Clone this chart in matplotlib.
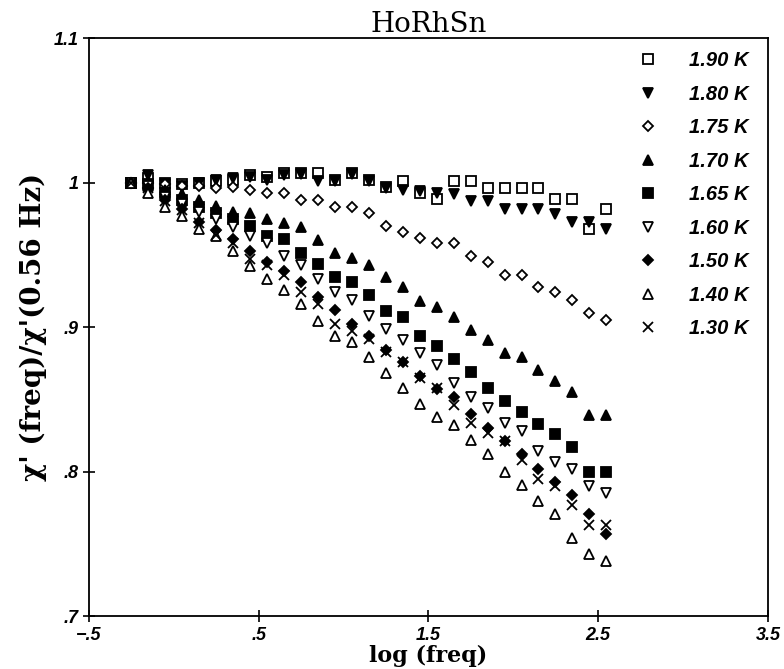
import numpy as np
import matplotlib.pyplot as plt

# log10 of frequency, 0.56 Hz upward in steps of 0.1 decade
log_f0 = np.log10(0.56)
n_pts = 29
log_freq = [log_f0 + 0.1 * i for i in range(n_pts)]

temps = ['1.90 K', '1.80 K', '1.75 K', '1.70 K', '1.65 K',
         '1.60 K', '1.50 K', '1.40 K', '1.30 K']

chi_190 = [1.000, 1.003, 1.000, 0.999, 1.000, 1.001, 1.002, 1.005, 1.004, 1.007,
           1.007, 1.007, 1.002, 1.007, 1.002, 0.997, 1.001, 0.993, 0.989, 1.001,
           1.001, 0.996, 0.996, 0.996, 0.996, 0.989, 0.989, 0.968, 0.982]
chi_180 = [1.000, 1.005, 0.999, 0.998, 1.000, 1.002, 1.003, 1.004, 1.002, 1.005,
           1.006, 1.001, 1.001, 1.006, 1.001, 0.996, 0.995, 0.994, 0.993, 0.992,
           0.987, 0.987, 0.982, 0.982, 0.982, 0.978, 0.973, 0.973, 0.968]
chi_175 = [1.000, 1.000, 0.999, 0.998, 0.998, 0.996, 0.997, 0.995, 0.993, 0.993,
           0.988, 0.988, 0.983, 0.983, 0.979, 0.970, 0.966, 0.962, 0.958, 0.958,
           0.949, 0.945, 0.936, 0.936, 0.928, 0.924, 0.919, 0.910, 0.905]
chi_170 = [1.000, 0.998, 0.995, 0.992, 0.988, 0.984, 0.980, 0.979, 0.975, 0.972,
           0.969, 0.960, 0.951, 0.948, 0.943, 0.935, 0.928, 0.918, 0.914, 0.907,
           0.898, 0.891, 0.882, 0.879, 0.870, 0.863, 0.855, 0.839, 0.839]
chi_165 = [1.000, 0.999, 0.993, 0.988, 0.983, 0.979, 0.975, 0.970, 0.963, 0.961,
           0.951, 0.944, 0.935, 0.931, 0.922, 0.911, 0.907, 0.894, 0.887, 0.878,
           0.869, 0.858, 0.849, 0.841, 0.833, 0.826, 0.817, 0.800, 0.800]
chi_160 = [1.000, 0.998, 0.990, 0.985, 0.980, 0.975, 0.969, 0.963, 0.958, 0.949,
           0.943, 0.933, 0.924, 0.919, 0.908, 0.899, 0.891, 0.882, 0.874, 0.861,
           0.852, 0.844, 0.834, 0.828, 0.814, 0.807, 0.802, 0.790, 0.785]
chi_150 = [1.000, 0.996, 0.988, 0.982, 0.973, 0.967, 0.961, 0.953, 0.945, 0.939,
           0.931, 0.921, 0.912, 0.902, 0.894, 0.884, 0.876, 0.866, 0.857, 0.852,
           0.840, 0.830, 0.821, 0.812, 0.802, 0.793, 0.784, 0.771, 0.757]
chi_140 = [1.000, 0.993, 0.983, 0.977, 0.968, 0.963, 0.953, 0.942, 0.933, 0.926,
           0.916, 0.904, 0.894, 0.890, 0.879, 0.868, 0.858, 0.847, 0.838, 0.832,
           0.822, 0.812, 0.800, 0.791, 0.780, 0.771, 0.754, 0.743, 0.738]
chi_130 = [1.000, 0.996, 0.987, 0.981, 0.972, 0.964, 0.958, 0.947, 0.943, 0.936,
           0.924, 0.916, 0.902, 0.897, 0.892, 0.883, 0.876, 0.865, 0.858, 0.846,
           0.834, 0.827, 0.821, 0.808, 0.795, 0.790, 0.777, 0.763, 0.763]

series = [chi_190, chi_180, chi_175, chi_170, chi_165,
          chi_160, chi_150, chi_140, chi_130]
# marker, filled?, size
styles = [('s', False, 7), ('v', True, 7), ('D', False, 5.5), ('^', True, 7),
          ('s', True, 7), ('v', False, 7), ('D', True, 5.5), ('^', False, 7),
          ('x', True, 7)]

xticks = [-0.5, 0.5, 1.5, 2.5, 3.5]
xticklabels = ['\u2212.5', '.5', '1.5', '2.5', '3.5']
yticks = [0.7, 0.8, 0.9, 1.0, 1.1]
yticklabels = ['.7', '.8', '.9', '1', '1.1']

fig = plt.figure(figsize=(7.84, 6.69), dpi=100)
ax = fig.add_axes([0.1135, 0.079, 0.866, 0.864])

for vals, lab, (m, filled, ms) in zip(series, temps, styles):
    if m == 'x':
        ax.plot(log_freq, vals, ls='none', marker='x', ms=ms, mew=1.3,
                color='black', label=lab)
    else:
        ax.plot(log_freq, vals, ls='none', marker=m, ms=ms, mew=1.3,
                mec='black', mfc='black' if filled else 'white', label=lab)

ax.set_xlim(-0.5, 3.5)
ax.set_ylim(0.7, 1.1)
ax.set_xticks(xticks)
ax.set_xticklabels(xticklabels)
ax.set_yticks(yticks)
ax.set_yticklabels(yticklabels)
ax.tick_params(direction='inout', length=9, width=1.2, labelsize=13, pad=3)
for lbl in ax.get_xticklabels() + ax.get_yticklabels():
    lbl.set_fontfamily('Liberation Sans')
    lbl.set_fontweight('bold')
    lbl.set_fontstyle('italic')
for sp in ax.spines.values():
    sp.set_linewidth(1.3)

ax.set_xlabel('log (freq)', fontsize=16, fontweight='bold',
              family='DejaVu Serif', labelpad=1)
ax.set_ylabel("\u03c7' (freq)/\u03c7'(0.56 Hz)", fontsize=20, fontweight='bold',
              family='DejaVu Serif', labelpad=5)
ax.set_title('HoRhSn', fontsize=20, family='DejaVu Serif', pad=4)

leg = ax.legend(loc='upper right', bbox_to_anchor=(0.99, 1.0), frameon=False,
                prop={'family': 'Liberation Sans', 'weight': 'bold',
                      'style': 'italic', 'size': 14.5},
                labelspacing=0.72, handletextpad=1.5, handlelength=1.0,
                borderaxespad=0.25)

fig.savefig('out.png', dpi=100)
